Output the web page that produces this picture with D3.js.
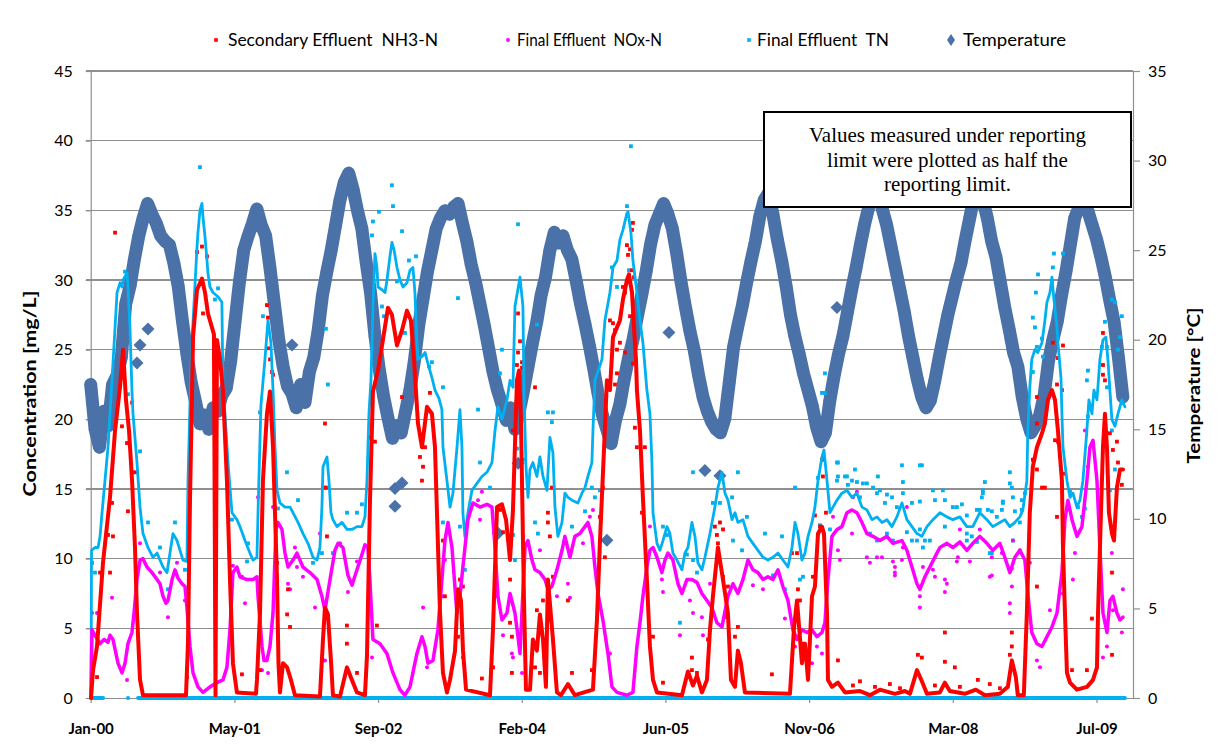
<!DOCTYPE html>
<html>
<head>
<meta charset="utf-8">
<script src="https://cdn.jsdelivr.net/npm/d3@7"></script>
<style>
  body { margin: 0; background: #fff; }
  svg { display: block; }
  text { font-family: Lato, "Liberation Sans", sans-serif; }
</style>
</head>
<body>
<svg id="chart" width="1221" height="749"></svg>
<script>
// ---------- axis definitions ----------
const xTickLabels = ["Jan-00", "May-01", "Sep-02", "Feb-04", "Jun-05", "Nov-06", "Mar-08", "Jul-09"];
const xTickStepDays = 500;
const concTicks = [0, 5, 10, 15, 20, 25, 30, 35, 40, 45];
const tempTicks = [0, 5, 10, 15, 20, 25, 30, 35];

// ---------- temperature, semi-monthly readings from Jan 2000 ----------
const tempStartYear = 2000;
const tempStepYears = 1 / 24;
const temperature = [
  17.5, 15.0, 14.0, 16.0, 15.2, 17.5, 18.0, 19.0, 22.0, 23.0,
  24.5, 25.8, 26.8, 27.6, 27.0, 26.5, 25.8, 25.5, 25.3, 24.3,
  23.0, 21.0, 19.2, 17.6, 16.5, 15.3, 15.8, 15.0, 16.2, 16.0,
  16.9, 17.3, 18.8, 21.0, 23.2, 25.0, 25.8, 26.5, 27.3, 26.4,
  25.8, 24.0, 22.0, 20.0, 18.5, 17.4, 17.0, 16.2, 17.5, 16.5,
  18.2, 19.0, 20.5, 22.5, 23.8, 25.0, 26.4, 27.8, 28.8, 29.3,
  28.4, 27.2, 26.2, 24.3, 22.6, 20.2, 18.3, 16.8, 15.6, 14.5,
  15.2, 14.8, 16.0, 17.2, 18.8, 20.8, 22.3, 23.8, 25.0, 26.2,
  26.8, 27.2, 27.0, 27.4, 27.6, 26.5, 25.5, 24.2, 23.2, 22.0,
  20.8, 19.5, 18.2, 17.2, 16.4, 15.5, 16.2, 15.0, 16.0, 17.2,
  18.5, 19.8, 21.0, 22.5, 23.5, 25.0, 26.0, 25.4, 25.8, 25.0,
  24.5, 23.3, 22.0, 20.9, 19.7, 18.4, 17.0, 15.8, 15.0, 14.2,
  15.5, 16.4, 17.8, 19.0, 20.0, 21.3, 22.5, 23.8, 25.3, 26.4,
  27.0, 27.6, 27.0, 26.2, 24.8, 23.2, 21.8, 20.5, 19.4, 18.0,
  16.8, 16.0, 15.4, 15.0, 14.8, 15.6, 17.6, 19.6, 20.8, 21.9,
  23.2, 24.4, 25.5, 26.9, 27.8, 28.2, 27.0, 25.6, 24.4, 23.0,
  21.4, 20.2, 19.2, 18.1, 17.2, 16.3, 15.1, 14.3, 14.8, 16.6,
  18.0, 19.2, 20.2, 21.5, 22.8, 24.0, 25.3, 26.5, 27.5, 28.5,
  28.3, 27.3, 26.4, 25.2, 24.0, 22.8, 21.6, 20.2, 19.0, 17.8,
  16.8, 16.2, 16.6, 17.7, 19.0, 20.2, 21.4, 22.4, 23.4, 24.3,
  25.6, 26.8, 28.0, 28.6, 27.8, 26.8, 25.5, 24.6, 23.2, 21.8,
  20.6, 19.3, 18.5, 16.8, 15.6, 14.8, 15.2, 15.8, 16.9, 18.8,
  20.0, 21.0, 22.5, 23.8, 25.3, 26.8, 27.4, 27.5, 27.2, 26.4,
  25.6, 24.6, 23.5, 22.2, 21.0, 19.0, 16.8
];
// single readings away from the seasonal band [decimal year, degC]
const temperatureSingles = [
  [2000.441, 18.7], [2000.470, 19.7], [2000.546, 20.6], [2001.918, 19.7],
  [2002.899, 11.7], [2002.899, 10.7], [2002.966, 12.0], [2003.881, 9.2],
  [2004.072, 13.1], [2004.918, 8.8], [2005.509, 20.4], [2005.852, 12.7],
  [2005.995, 12.4], [2007.110, 21.8]
];

// ---------- Secondary Effluent NH3-N [decimal year, mg/L] ----------
const nh3Trend = [
  [2000.003,0],[2000.022,2.0],[2000.060,3.7],[2000.117,9.7],[2000.184,14.4],[2000.232,19.2],[2000.279,22.3],[2000.308,25.0],
  [2000.336,21.4],[2000.365,19.2],[2000.394,15.6],[2000.422,10.8],[2000.441,6.1],[2000.470,1.3],[2000.498,0.2],[2000.908,0.2],
  [2000.927,4.0],[2000.946,14.2],[2000.975,25.9],[2001.013,29.3],[2001.060,30.1],[2001.089,29.1],[2001.117,27.6],[2001.155,26.6],
  [2001.174,26.1],[2001.189,0.2],[2001.203,25.7],[2001.232,24.3],[2001.260,22.1],[2001.298,15.6],[2001.327,8.5],[2001.355,2.5],
  [2001.393,0.4],[2001.575,0.3],[2001.584,1.3],[2001.613,6.1],[2001.641,15.6],[2001.679,20.4],[2001.708,22.0],[2001.737,18.0],
  [2001.775,8.5],[2001.789,2.5],[2001.803,0.4],[2001.832,2.5],[2001.871,2.2],[2001.908,1.3],[2001.946,0.2],[2002.184,0.1],
  [2002.213,4.2],[2002.232,6.5],[2002.260,6.0],[2002.289,2.7],[2002.308,0.2],[2002.375,0.1],[2002.441,2.2],[2002.489,1.3],
  [2002.537,0.4],[2002.613,0.2],[2002.632,3.0],[2002.661,14.2],[2002.689,22.0],[2002.737,23.5],[2002.784,25.7],[2002.832,28.0],
  [2002.870,27.5],[2002.918,25.3],[2002.966,26.4],[2003.013,27.8],[2003.051,27.1],[2003.080,24.3],[2003.118,19.7],[2003.156,18.0],
  [2003.204,20.9],[2003.251,20.4],[2003.280,18.0],[2003.299,13.3],[2003.328,6.1],[2003.356,1.8],[2003.394,0.4],[2003.423,1.3],
  [2003.471,3.4],[2003.499,7.8],[2003.528,7.0],[2003.547,3.4],[2003.576,0.6],[2003.804,0.2],[2003.833,5.0],[2003.871,13.7],
  [2003.918,13.9],[2003.957,12.8],[2003.995,9.9],[2004.023,13.5],[2004.061,22.8],[2004.080,23.5],[2004.099,20.0],[2004.128,7.0],
  [2004.147,0.6],[2004.185,0.6],[2004.213,4.2],[2004.251,3.4],[2004.280,6.0],[2004.309,4.2],[2004.337,0.8],[2004.356,8.5],
  [2004.404,4.2],[2004.442,0.4],[2004.480,0.2],[2004.547,1.0],[2004.613,0.2],[2004.785,0.6],[2004.823,5.6],[2004.852,11.3],
  [2004.890,17.8],[2004.918,22.8],[2004.947,22.1],[2004.976,25.9],[2005.014,26.6],[2005.042,27.1],[2005.071,28.6],[2005.109,30.0],
  [2005.128,30.4],[2005.157,29.1],[2005.176,26.6],[2005.195,24.3],[2005.204,22.1],[2005.233,19.2],[2005.261,14.4],[2005.299,8.5],
  [2005.328,3.7],[2005.357,1.3],[2005.395,0.4],[2005.633,0.2],[2005.690,1.9],[2005.738,0.9],[2005.776,1.6],[2005.823,0.4],
  [2005.871,1.3],[2005.900,4.9],[2005.928,7.3],[2005.976,10.8],[2006.024,8.5],[2006.071,6.1],[2006.100,1.3],[2006.138,0.8],
  [2006.166,3.4],[2006.195,2.5],[2006.233,0.4],[2006.662,0.3],[2006.700,5.0],[2006.729,7.0],[2006.776,2.5],[2006.805,3.9],
  [2006.834,1.3],[2006.872,7.3],[2006.900,8.0],[2006.929,11.8],[2006.967,12.3],[2006.986,11.8],[2007.015,6.1],[2007.024,1.3],
  [2007.062,0.8],[2007.119,1.1],[2007.186,0.4],[2007.329,0.5],[2007.424,0.2],[2007.519,0.6],[2007.662,0.3],[2007.757,0.5],
  [2007.805,0.3],[2007.872,2.0],[2007.919,1.2],[2007.967,0.3],[2008.090,0.4],[2008.138,1.1],[2008.185,0.5],[2008.328,0.3],
  [2008.433,0.6],[2008.519,0.2],[2008.662,0.3],[2008.738,0.8],[2008.776,2.7],[2008.814,1.5],[2008.833,0.2],[2008.890,0.2],
  [2008.919,6.1],[2008.947,13.3],[2008.976,16.6],[2009.015,18.0],[2009.063,19.0],[2009.091,19.7],[2009.120,21.4],[2009.158,22.1],
  [2009.187,21.4],[2009.215,19.2],[2009.253,15.6],[2009.263,10.8],[2009.282,6.1],[2009.301,1.8],[2009.330,1.1],[2009.396,0.6],
  [2009.492,0.8],[2009.549,1.3],[2009.587,2.2],[2009.597,6.1],[2009.625,13.3],[2009.644,18.0],[2009.663,20.4],[2009.682,18.0],
  [2009.701,13.3],[2009.730,11.8],[2009.749,11.3],[2009.777,15.1],[2009.806,16.4],[2009.835,16.4]
];
const nh3Samples = [
  [2000.232,33.4],[2001.013,32.0],[2001.060,32.4],[2001.108,31.7],[2001.070,27.6],[2001.679,28.2],[2001.689,27.3],[2001.698,25.1],
  [2001.708,24.3],[2001.727,23.4],[2001.737,23.2],[2000.022,2.9],[2000.060,1.5],[2000.089,9.0],[2000.184,9.0],[2000.165,11.7],
  [2000.212,11.6],[2000.203,14.0],[2000.298,19.5],[2000.346,18.3],[2000.355,13.4],[2000.422,16.2],[2000.394,21.2],[2000.917,1.5],
  [2001.441,1.7],[2001.613,2.0],[2001.775,9.7],[2001.899,5.1],[2001.880,7.8],[2001.871,6.0],[2001.737,19.7],[2002.232,19.7],
  [2002.241,15.1],[2002.251,11.6],[2002.441,5.2],[2002.441,3.9],[2002.537,1.8],[2002.661,18.7],[2002.708,18.4],[2002.727,5.2],
  [2002.966,21.6],[2003.232,21.9],[2003.137,17.3],[2003.156,15.6],[2003.166,16.6],[2003.185,18.0],[2003.356,11.3],[2003.375,7.3],
  [2003.499,4.4],[2003.518,8.5],[2003.546,8.0],[2003.727,1.4],[2003.833,2.2],[2003.899,13.5],[2003.928,11.9],[2003.995,8.5],
  [2004.013,4.4],[2004.013,1.8],[2003.995,5.4],[2004.071,27.6],[2004.090,25.6],[2004.071,24.8],[2004.109,24.1],[2004.061,23.9],
  [2004.109,23.7],[2004.061,22.3],[2004.233,22.3],[2005.166,34.1],[2005.157,33.6],[2005.109,32.5],[2005.138,32.2],[2005.119,31.8],
  [2005.157,30.7],[2005.071,29.5],[2005.090,29.1],[2005.138,27.4],[2005.176,30.2],[2004.947,27.1],[2004.976,26.9],[2004.995,26.4],
  [2005.042,25.5],[2005.014,25.0],[2005.090,24.8],[2005.014,23.3],[2004.995,22.5],[2005.166,24.0],[2004.023,19.2],[2004.280,1.8],
  [2004.356,13.3],[2004.356,12.6],[2004.375,11.6],[2004.394,15.1],[2004.404,8.7],[2004.375,5.6],[2004.309,7.0],[2004.251,6.3],
  [2004.233,2.2],[2004.547,7.0],[2004.585,1.8],[2004.775,2.0],[2004.899,10.1],[2004.880,15.1],[2004.852,13.0],[2005.185,19.4],
  [2005.204,18.0],[2005.280,18.0],[2005.252,13.3],[2005.357,4.4],[2005.452,1.1],[2005.728,2.9],[2005.728,2.0],[2005.776,1.8],
  [2005.881,4.2],[2005.966,11.7],[2005.976,11.1],[2005.995,12.6],[2005.947,12.3],[2006.024,8.7],[2006.071,8.0],[2006.024,12.1],
  [2006.138,4.4],[2006.166,5.1],[2006.490,1.7],[2006.681,10.4],[2006.729,10.4],[2006.757,7.0],[2006.738,7.8],[2006.786,3.9],
  [2006.881,8.7],[2006.900,13.1],[2006.948,12.3],[2006.967,17.1],[2006.976,15.9],[2007.005,13.3],[2007.119,2.7],[2007.262,0.9],
  [2007.881,3.1],[2007.919,2.9],[2008.138,4.7],[2008.138,2.6],[2008.233,2.2],[2008.452,1.3],[2008.776,4.7],[2008.776,3.7],
  [2008.757,3.1],[2009.015,8.0],[2009.015,16.4],[2009.063,15.1],[2009.091,15.1],[2009.206,13.0],[2009.215,18.4],[2009.187,18.5],
  [2009.253,22.1],[2009.015,21.6],[2009.015,19.7],[2009.282,16.1],[2009.349,2.0],[2009.491,2.0],[2009.539,5.7],[2009.730,9.0],
  [2009.730,3.1],[2009.739,17.8],[2009.777,18.4],[2009.787,16.9],[2009.824,15.3],[2009.710,19.0],[2009.663,22.8],[2008.976,17.1],
  [2009.644,26.2],[2009.644,23.9],[2009.644,23.2],[2009.167,25.5],[2009.215,24.4],[2009.263,25.3],[2009.206,22.5],
  [2007.329,1.2],[2007.472,0.8],[2007.614,1.0],[2007.710,0.7],[2008.043,0.9],[2008.281,0.8],[2008.566,1.0],[2008.662,0.7]
];

// ---------- Final Effluent NOx-N [decimal year, mg/L] ----------
const noxTrend = [
  [2000.003,0],[2000.012,4.9],[2000.041,4.5],[2000.089,3.9],[2000.127,4.2],[2000.165,4.0],[2000.184,4.5],[2000.212,4.2],
  [2000.260,2.5],[2000.298,1.8],[2000.327,2.5],[2000.355,3.9],[2000.393,4.7],[2000.413,6.1],[2000.441,8.5],[2000.470,9.9],
  [2000.498,10.0],[2000.536,9.4],[2000.584,9.0],[2000.632,8.5],[2000.660,8.2],[2000.689,7.3],[2000.717,6.8],[2000.736,7.0],
  [2000.775,8.5],[2000.803,9.2],[2000.832,8.6],[2000.870,8.2],[2000.898,8.0],[2000.917,6.5],[2000.946,3.7],[2000.975,1.8],
  [2001.022,0.8],[2001.070,0.4],[2001.137,0.8],[2001.203,1.1],[2001.260,1.3],[2001.298,2.2],[2001.327,4.9],[2001.355,9.0],
  [2001.393,9.4],[2001.422,8.7],[2001.489,8.5],[2001.546,8.5],[2001.584,8.7],[2001.594,7.3],[2001.632,3.7],[2001.651,2.7],
  [2001.679,2.7],[2001.708,3.7],[2001.737,6.1],[2001.765,12.1],[2001.784,12.6],[2001.822,12.1],[2001.851,10.4],[2001.880,9.4],
  [2001.927,9.9],[2001.965,10.4],[2002.022,9.4],[2002.089,9.0],[2002.156,8.5],[2002.203,7.3],[2002.232,6.3],[2002.280,8.5],
  [2002.327,10.6],[2002.356,11.1],[2002.403,10.8],[2002.451,8.8],[2002.489,8.1],[2002.537,9.2],[2002.584,10.3],[2002.613,11.0],
  [2002.641,10.8],[2002.660,8.5],[2002.689,4.2],[2002.756,3.9],[2002.822,3.2],[2002.880,1.8],[2002.946,0.6],[2002.994,0.2],
  [2003.042,0.8],[2003.108,3.2],[2003.156,4.4],[2003.185,3.7],[2003.213,2.5],[2003.261,2.7],[2003.308,4.9],[2003.346,8.5],
  [2003.375,11.3],[2003.404,12.6],[2003.442,10.8],[2003.489,6.1],[2003.518,7.3],[2003.546,9.4],[2003.594,12.8],[2003.642,14.0],
  [2003.709,13.7],[2003.775,13.9],[2003.823,13.7],[2003.852,10.8],[2003.880,7.3],[2003.918,5.6],[2003.966,6.1],[2003.995,7.5],
  [2004.042,6.1],[2004.071,4.4],[2004.090,3.2],[2004.138,10.8],[2004.166,11.3],[2004.204,9.9],[2004.233,9.2],[2004.280,9.0],
  [2004.328,8.5],[2004.356,7.8],[2004.394,8.0],[2004.442,9.2],[2004.490,10.6],[2004.518,11.6],[2004.566,10.1],[2004.613,11.6],
  [2004.661,11.8],[2004.709,12.3],[2004.737,12.6],[2004.775,11.6],[2004.804,9.4],[2004.833,7.5],[2004.880,5.6],[2004.928,3.2],
  [2004.966,0.8],[2005.014,0.4],[2005.109,0.2],[2005.166,0.4],[2005.204,3.7],[2005.233,5.4],[2005.261,7.3],[2005.299,9.4],
  [2005.328,10.6],[2005.357,10.8],[2005.395,10.1],[2005.442,9.0],[2005.471,9.9],[2005.499,10.4],[2005.547,9.9],[2005.595,8.2],
  [2005.633,7.5],[2005.680,8.5],[2005.728,8.5],[2005.776,8.3],[2005.823,7.5],[2005.871,7.0],[2005.918,6.5],[2005.966,5.4],
  [2006.014,5.1],[2006.071,7.3],[2006.119,8.2],[2006.166,7.5],[2006.214,8.5],[2006.262,9.9],[2006.309,9.2],[2006.357,9.0],
  [2006.405,8.5],[2006.452,8.7],[2006.500,8.5],[2006.548,9.2],[2006.595,8.0],[2006.643,7.0],[2006.690,4.9],[2006.729,4.2],
  [2006.776,4.9],[2006.824,4.7],[2006.871,4.9],[2006.919,4.4],[2006.967,4.7],[2006.995,5.4],[2007.024,8.5],[2007.062,11.6],
  [2007.110,12.1],[2007.157,12.3],[2007.205,13.3],[2007.253,13.5],[2007.300,13.3],[2007.348,12.6],[2007.395,11.8],[2007.453,11.6],
  [2007.519,11.3],[2007.586,11.6],[2007.643,11.1],[2007.729,11.3],[2007.776,10.6],[2007.824,9.4],[2007.872,8.2],[2007.900,7.8],
  [2007.948,8.7],[2007.995,9.4],[2008.062,10.4],[2008.091,10.8],[2008.157,11.1],[2008.214,10.8],[2008.281,11.2],[2008.347,10.6],
  [2008.404,11.1],[2008.471,11.6],[2008.538,11.1],[2008.595,10.6],[2008.662,11.1],[2008.709,10.1],[2008.757,9.0],[2008.805,10.1],
  [2008.852,10.6],[2008.900,9.9],[2008.928,7.5],[2008.966,4.7],[2009.015,3.9],[2009.063,3.7],[2009.110,4.4],[2009.158,5.1],
  [2009.206,6.1],[2009.253,9.0],[2009.282,12.8],[2009.310,14.2],[2009.349,12.8],[2009.396,11.6],[2009.444,12.3],[2009.491,15.6],
  [2009.520,18.0],[2009.549,18.5],[2009.587,15.6],[2009.615,10.8],[2009.644,6.1],[2009.682,4.7],[2009.711,7.0],[2009.739,7.3],
  [2009.777,6.1],[2009.806,5.6],[2009.834,5.8]
];
const noxSamples = [
  [2000.013,6.1],[2000.060,6.1],[2000.203,7.2],[2000.346,1.3],[2000.470,11.1],[2000.660,9.0],[2000.736,5.8],[2000.822,9.7],
  [2000.898,7.0],[2001.355,9.5],[2001.470,6.8],[2001.441,8.7],[2001.594,14.4],[2001.689,1.8],[2001.632,2.0],[2001.880,8.2],
  [2001.899,7.8],[2001.965,9.4],[2001.737,13.7],[2001.946,10.8],[2002.022,8.7],[2002.184,11.8],[2002.137,6.5],[2002.232,2.7],
  [2002.375,11.1],[2002.451,7.6],[2002.537,9.8],[2002.680,2.9],[2003.166,6.5],[2003.204,2.2],[2003.356,7.3],[2003.375,9.9],
  [2003.546,2.9],[2003.709,12.8],[2003.727,14.8],[2003.690,14.2],[2003.871,7.3],[2003.928,4.5],[2004.013,3.2],[2004.023,2.9],
  [2004.109,1.8],[2004.280,10.6],[2004.442,7.3],[2004.547,8.2],[2004.566,7.2],[2004.690,11.1],[2004.756,13.0],[2004.785,13.5],
  [2004.833,7.4],[2004.947,3.2],[2005.328,12.3],[2005.442,8.5],[2005.452,7.6],[2005.709,7.0],[2005.738,6.1],[2005.823,5.8],
  [2005.833,4.5],[2005.900,8.2],[2005.614,4.5],[2006.043,5.8],[2006.309,8.1],[2006.405,7.8],[2006.614,5.7],[2006.710,3.7],
  [2006.805,3.4],[2006.872,2.5],[2006.919,3.7],[2006.967,3.2],[2007.119,10.6],[2007.253,11.8],[2007.395,10.1],[2007.424,9.7],
  [2007.643,9.8],[2007.662,8.8],[2007.729,9.9],[2007.900,7.3],[2007.900,6.5],[2008.024,9.2],[2008.138,8.5],[2008.138,7.6],
  [2008.262,10.1],[2008.376,9.8],[2008.566,8.7],[2008.585,10.1],[2008.757,6.8],[2008.757,6.1],[2008.786,11.3],[2008.948,9.7],
  [2009.015,2.7],[2009.044,2.2],[2009.139,6.3],[2009.263,7.5],[2009.358,8.5],[2009.377,10.4],[2009.472,19.2],[2009.501,16.6],
  [2009.644,2.9],[2009.682,3.7],[2009.729,10.4],[2009.739,6.3],[2009.824,4.7],[2009.834,7.8],
  [2007.072,13.0],[2007.138,9.9],[2007.491,10.1],[2007.538,10.1],[2007.662,9.4],[2007.662,9.0],[2007.738,10.8],[2007.929,9.4],
  [2008.043,8.7],[2008.157,8.2],[2008.252,9.8],[2008.281,12.1],[2008.471,12.1],[2008.585,8.8],[2008.681,10.4],[2008.776,9.3],
  [2008.776,8.0],[2008.852,10.6],[2007.262,14.4],[2007.300,14.8],[2007.776,13.7]
];

// ---------- Final Effluent TN [decimal year, mg/L] ----------
const tnTrend = [
  [2000.003,0],[2000.008,10.6],[2000.041,10.8],[2000.070,10.8],[2000.089,11.6],[2000.108,13.3],[2000.136,15.6],[2000.165,18.0],
  [2000.203,22.8],[2000.251,29.1],[2000.279,29.8],[2000.298,29.5],[2000.308,30.0],[2000.346,30.5],[2000.355,29.5],[2000.374,26.6],
  [2000.393,22.1],[2000.403,20.4],[2000.441,16.9],[2000.470,13.7],[2000.498,11.8],[2000.546,10.8],[2000.594,10.1],[2000.632,10.4],
  [2000.660,9.9],[2000.689,9.4],[2000.727,9.0],[2000.755,10.4],[2000.784,11.8],[2000.822,11.3],[2000.851,10.6],[2000.879,9.9],
  [2000.917,9.8],[2000.927,15.6],[2000.956,24.0],[2000.975,27.0],[2001.013,32.4],[2001.022,33.4],[2001.041,35.0],[2001.060,35.5],
  [2001.070,34.5],[2001.089,33.1],[2001.108,31.4],[2001.117,30.5],[2001.136,29.5],[2001.165,29.1],[2001.213,28.8],[2001.250,28.4],
  [2001.260,22.1],[2001.279,20.4],[2001.308,16.9],[2001.346,13.3],[2001.393,12.8],[2001.422,12.3],[2001.470,11.3],[2001.517,10.4],
  [2001.546,9.9],[2001.584,10.1],[2001.594,13.3],[2001.622,21.0],[2001.660,24.3],[2001.689,27.1],[2001.717,25.5],[2001.737,22.1],
  [2001.756,18.0],[2001.775,14.9],[2001.803,14.0],[2001.851,13.7],[2001.899,13.7],[2001.927,13.3],[2001.975,12.6],[2002.023,11.8],
  [2002.070,11.1],[2002.118,10.1],[2002.156,9.9],[2002.184,10.8],[2002.203,13.7],[2002.213,16.6],[2002.251,17.3],[2002.270,15.6],
  [2002.289,13.3],[2002.308,12.8],[2002.346,12.3],[2002.394,12.6],[2002.442,12.1],[2002.489,12.1],[2002.537,12.3],[2002.584,12.3],
  [2002.613,13.0],[2002.632,15.6],[2002.651,20.4],[2002.670,22.8],[2002.689,28.0],[2002.708,31.9],[2002.727,30.9],[2002.737,29.5],
  [2002.775,29.3],[2002.804,29.1],[2002.823,30.0],[2002.851,31.7],[2002.870,32.7],[2002.889,32.2],[2002.918,30.9],[2002.947,30.0],
  [2002.975,29.5],[2003.013,29.8],[2003.042,30.7],[2003.070,30.9],[2003.089,29.1],[2003.108,25.5],[2003.118,24.3],[2003.156,24.5],
  [2003.185,24.8],[2003.213,24.0],[2003.251,23.0],[2003.280,22.1],[2003.318,21.5],[2003.346,20.7],[2003.356,18.0],[2003.394,15.6],
  [2003.423,13.7],[2003.451,14.7],[2003.490,18.0],[2003.518,20.7],[2003.537,18.0],[2003.546,13.3],[2003.565,11.6],[2003.594,13.3],
  [2003.632,14.9],[2003.680,15.4],[2003.727,15.9],[2003.775,16.2],[2003.823,16.9],[2003.852,19.2],[2003.880,20.9],[2003.918,20.0],
  [2003.966,21.4],[2003.995,22.8],[2004.023,22.3],[2004.042,28.1],[2004.090,30.2],[2004.118,28.1],[2004.128,22.0],[2004.147,16.6],
  [2004.166,14.4],[2004.185,16.4],[2004.213,16.9],[2004.251,15.9],[2004.280,17.3],[2004.309,15.9],[2004.347,14.9],[2004.375,18.7],
  [2004.404,17.6],[2004.423,13.7],[2004.451,11.6],[2004.490,12.6],[2004.518,14.7],[2004.547,14.4],[2004.585,14.2],[2004.642,14.0],
  [2004.680,14.7],[2004.709,15.1],[2004.737,15.9],[2004.775,16.9],[2004.785,19.2],[2004.804,22.8],[2004.871,24.3],[2004.899,27.1],
  [2004.947,29.1],[2004.976,30.9],[2005.014,31.4],[2005.042,32.9],[2005.071,33.6],[2005.109,34.8],[2005.119,34.9],[2005.147,33.4],
  [2005.166,31.4],[2005.204,29.1],[2005.233,27.1],[2005.261,25.5],[2005.299,22.1],[2005.328,20.4],[2005.347,16.9],[2005.357,13.3],
  [2005.395,11.1],[2005.423,10.6],[2005.452,11.3],[2005.490,12.3],[2005.518,11.8],[2005.547,10.4],[2005.585,9.9],[2005.633,9.2],
  [2005.661,10.4],[2005.690,10.8],[2005.728,12.6],[2005.757,11.6],[2005.785,9.7],[2005.823,9.2],[2005.852,10.1],[2005.900,11.8],
  [2005.947,13.7],[2005.976,15.1],[2006.014,16.2],[2006.043,14.7],[2006.071,14.2],[2006.110,12.8],[2006.138,13.3],[2006.166,12.6],
  [2006.214,12.8],[2006.262,11.6],[2006.309,11.1],[2006.357,10.6],[2006.405,10.1],[2006.452,9.9],[2006.500,10.1],[2006.548,10.4],
  [2006.595,9.9],[2006.643,9.4],[2006.681,10.8],[2006.710,12.6],[2006.738,11.8],[2006.776,9.9],[2006.805,10.4],[2006.834,11.6],
  [2006.872,12.6],[2006.900,13.7],[2006.929,15.6],[2006.967,17.3],[2006.986,17.8],[2007.015,15.6],[2007.043,13.3],[2007.072,13.7],
  [2007.110,14.2],[2007.157,14.7],[2007.205,14.9],[2007.253,14.4],[2007.300,14.7],[2007.348,13.7],[2007.395,13.5],[2007.443,12.8],
  [2007.491,13.0],[2007.538,12.6],[2007.586,12.8],[2007.633,12.3],[2007.681,13.0],[2007.729,14.0],[2007.776,12.8],[2007.824,12.3],
  [2007.872,11.8],[2007.919,11.6],[2007.967,12.3],[2008.024,12.8],[2008.091,13.3],[2008.157,13.0],[2008.214,12.8],[2008.281,13.0],
  [2008.347,12.3],[2008.404,12.3],[2008.471,13.3],[2008.538,12.8],[2008.595,12.3],[2008.662,12.6],[2008.709,12.8],[2008.757,12.3],
  [2008.805,12.6],[2008.852,13.0],[2008.881,13.5],[2008.919,15.6],[2008.928,19.2],[2008.947,22.3],[2008.966,24.3],[2008.995,25.0],
  [2009.023,24.8],[2009.063,25.5],[2009.091,27.1],[2009.110,28.4],[2009.139,29.1],[2009.158,30.2],[2009.177,28.6],[2009.206,26.6],
  [2009.215,25.5],[2009.244,23.0],[2009.253,20.4],[2009.263,18.0],[2009.301,15.6],[2009.330,14.4],[2009.358,14.7],[2009.396,13.7],
  [2009.425,14.2],[2009.453,15.6],[2009.491,19.2],[2009.510,21.4],[2009.539,20.4],[2009.558,22.1],[2009.587,21.4],[2009.615,24.3],
  [2009.644,25.7],[2009.672,25.9],[2009.691,24.3],[2009.710,22.1],[2009.729,20.0],[2009.758,19.5],[2009.787,20.4],[2009.824,21.4],
  [2009.853,20.9]
];
const tnSamples = [
  [2001.041,38.1],[2000.327,30.6],[2001.213,29.4],[2001.184,28.6],[2001.641,27.4],[2000.013,9.7],[2000.041,9.0],[2000.470,17.7],
  [2000.355,21.8],[2000.546,12.6],[2000.660,10.8],[2000.803,12.6],[2000.736,7.8],[2000.898,9.2],[2001.346,12.8],[2001.499,11.1],
  [2001.489,9.8],[2001.870,16.2],[2001.975,14.2],[2001.784,13.6],[2001.613,20.5],[2002.870,36.8],[2002.880,35.3],[2002.746,34.9],
  [2002.689,34.2],[2002.680,33.2],[2002.966,33.5],[2003.032,31.4],[2003.099,31.7],[2002.918,29.9],[2003.499,28.7],[2004.071,34.0],
  [2002.241,26.5],[2002.260,22.5],[2002.775,28.1],[2002.794,27.4],[2002.994,26.2],[2003.223,23.8],[2003.251,24.1],[2003.899,23.3],
  [2003.918,25.0],[2005.147,39.6],[2005.109,35.3],[2004.252,26.8],[2005.128,30.7],[2004.966,30.9],[2005.014,29.5],[2002.232,15.1],
  [2002.537,13.3],[2002.584,13.9],[2002.442,13.3],[2002.308,10.4],[2002.203,10.4],[2002.118,9.7],[2003.565,9.2],[2003.518,12.3],
  [2003.356,12.6],[2003.709,16.9],[2003.690,20.7],[2003.804,15.1],[2004.023,11.7],[2004.042,9.9],[2003.356,22.3],[2004.356,20.5],
  [2004.404,20.5],[2004.394,19.8],[2004.061,17.9],[2004.118,17.1],[2004.233,12.6],[2004.261,11.8],[2004.585,12.3],[2004.709,13.4],
  [2004.775,15.1],[2004.804,14.4],[2004.852,14.9],[2005.452,12.3],[2005.490,11.7],[2005.614,5.4],[2005.680,10.3],[2005.738,9.9],
  [2005.776,9.0],[2005.928,14.0],[2005.995,14.0],[2006.014,15.8],[2005.738,16.2],[2006.166,16.2],[2006.110,14.4],[2006.252,13.0],
  [2006.119,11.3],[2006.205,10.6],[2006.424,11.8],[2006.586,11.6],[2006.500,8.8],[2006.614,7.8],[2006.710,15.1],[2006.757,8.5],
  [2006.786,8.7],[2006.929,15.8],[2006.948,12.4],[2006.967,21.9],[2006.995,21.9],[2006.995,23.3],[2007.119,16.9],[2007.205,15.9],
  [2007.281,16.4],[2007.300,15.5],[2007.110,15.6],[2007.214,15.3],[2007.329,14.4],[2007.395,15.4],[2007.491,14.7],[2007.567,14.0],
  [2007.681,13.7],[2007.729,16.7],[2007.738,15.5],[2007.919,16.7],[2007.900,12.1],[2007.948,11.3],[2008.024,14.9],[2007.491,11.3],
  [2007.586,11.8],[2007.776,11.9],[2007.824,11.3],[2008.119,14.9],[2008.138,14.2],[2008.214,13.7],[2008.300,13.9],[2008.347,11.8],
  [2008.395,11.6],[2008.471,13.5],[2008.490,14.4],[2008.500,14.9],[2008.585,13.4],[2008.681,13.5],[2008.690,14.0],[2008.757,16.2],
  [2008.757,15.4],[2008.776,15.1],[2008.805,13.4],[2008.585,10.4],[2008.138,12.3],[2008.871,14.2],[2008.871,13.5],[2009.330,14.8],
  [2009.406,13.7],[2009.444,13.0],[2009.472,13.6],[2009.501,20.2],[2009.710,14.9],[2009.758,16.4],[2009.729,19.2],[2009.682,22.3],
  [2009.025,30.4],[2009.177,31.9],[2009.263,31.9],[2009.167,30.9],[2009.158,29.9],[2008.976,27.3],[2009.005,29.1],[2008.996,26.6],
  [2009.063,25.8],[2009.072,24.5],[2009.015,25.2],[2008.976,23.4],[2009.729,28.6],[2009.758,28.4],[2009.824,27.4],[2009.806,25.9],
  [2009.787,25.0],[2009.663,27.0],[2009.682,25.2],[2009.501,23.5],[2009.491,22.8],[2009.634,25.2],
  [2007.110,16.9],[2007.119,15.9],[2007.186,15.9],[2007.253,15.6],[2007.357,15.4],[2007.453,15.1],[2007.500,15.9],[2007.519,14.9],
  [2007.586,14.6],[2007.634,14.4],[2007.738,14.7],[2007.824,14.0],[2007.900,16.7],[2007.900,14.1],[2008.043,14.2],[2008.252,13.7],
  [2008.347,13.1],[2008.443,13.5],[2008.500,14.7],[2008.519,15.5],[2008.548,13.5],[2008.633,13.0],[2008.690,14.1],[2008.786,14.4],
  [2008.852,12.6],[2008.900,14.7],[2007.424,11.8],[2007.643,11.3],[2007.872,11.3],[2007.929,10.8],[2007.995,11.3],[2008.347,11.3],
  [2008.443,11.2],[2008.566,10.4],[2008.786,11.3],[2007.043,12.1]
];
// periods of readings below the reporting limit, plotted on the zero line [from, to]
const tnBelowLimit = [[2000.003, 2000.118], [2000.355, 2000.356], [2000.451, 2009.853]];

// ---------- layout ----------
const svg = d3.select("#chart");
const plot = { left: 90.7, right: 1133, top: 71, bottom: 698 };
const xEndYear = 2000 + 3627 / 365.25;

const x = d3.scaleLinear().domain([2000, xEndYear]).range([plot.left, plot.right]);
const yConc = d3.scaleLinear().domain([0, 45]).range([plot.bottom, plot.top]);
const yTemp = d3.scaleLinear().domain([0, 35]).range([plot.bottom, plot.top]);

const colors = { nh3: "#FF0000", nox: "#FF00FF", tn: "#00B0F0", temp: "#4A72A8" };
const gridColor = "#8f8f8f";

// gridlines
svg.append("g")
  .selectAll("line")
  .data(concTicks.filter(d => d > 0))
  .join("line")
  .attr("x1", plot.left - 5).attr("x2", plot.right)
  .attr("y1", d => yConc(d)).attr("y2", d => yConc(d))
  .attr("stroke", gridColor).attr("stroke-width", 1.2)
  .attr("shape-rendering", "crispEdges");

// axes
function styleAxis(g) {
  g.selectAll(".domain").attr("stroke", gridColor).attr("stroke-width", 1.2);
  g.selectAll(".tick line").attr("stroke", gridColor).attr("stroke-width", 1.2);
  g.selectAll("text").attr("fill", "#000").style("font-family", "Lato, 'Liberation Sans', sans-serif");
}

const xTickValues = xTickLabels.map((_, i) => 2000 + i * xTickStepDays / 365.25);
svg.append("g")
  .attr("transform", `translate(0,${plot.bottom})`)
  .call(d3.axisBottom(x).tickValues(xTickValues).tickFormat((d, i) => xTickLabels[i])
    .tickSize(5).tickSizeOuter(0).tickPadding(20))
  .call(styleAxis)
  .call(g => g.selectAll("text").style("font-size", "15px").style("font-weight", "bold"));

svg.append("g")
  .attr("transform", `translate(${plot.left},0)`)
  .call(d3.axisLeft(yConc).tickValues(concTicks).tickSize(5).tickSizeOuter(0).tickPadding(13))
  .call(styleAxis)
  .call(g => g.selectAll("text").style("font-size", "16px"));

svg.append("g")
  .attr("transform", `translate(${plot.right},0)`)
  .call(d3.axisRight(yTemp).tickValues(tempTicks).tickSize(7).tickSizeOuter(0).tickPadding(8))
  .call(styleAxis)
  .call(g => g.selectAll("text").style("font-size", "16px"));

// axis titles
svg.append("text")
  .attr("transform", `translate(36,${(plot.top + plot.bottom) / 2 + 9}) rotate(-90)`)
  .attr("text-anchor", "middle")
  .attr("textLength", 206).attr("lengthAdjust", "spacingAndGlyphs")
  .style("font-size", "16.5px").style("font-weight", "bold")
  .text("Concentration [mg/L]");
svg.append("text")
  .attr("transform", `translate(1200,${(plot.top + plot.bottom) / 2 + 1}) rotate(-90)`)
  .attr("text-anchor", "middle")
  .attr("textLength", 156).attr("lengthAdjust", "spacingAndGlyphs")
  .style("font-size", "16.5px").style("font-weight", "bold")
  .text("Temperature [°C]");

// ---------- temperature ----------
const tempPoints = temperature.map((t, i) => [tempStartYear + i * tempStepYears, t]);
const diamond = r => `M0,${-r}L${r},0L0,${r}L${-r},0Z`;

svg.append("path")
  .datum(tempPoints)
  .attr("fill", "none")
  .attr("stroke", colors.temp)
  .attr("stroke-width", 13)
  .attr("stroke-linejoin", "round")
  .attr("stroke-linecap", "round")
  .attr("d", d3.line().x(d => x(d[0])).y(d => yTemp(d[1])));

svg.append("g")
  .selectAll("path")
  .data(tempPoints.concat(temperatureSingles))
  .join("path")
  .attr("transform", d => `translate(${x(d[0])},${yTemp(d[1])})`)
  .attr("d", diamond(6.5))
  .attr("fill", colors.temp);

// ---------- concentration samples ----------
function squares(data, color, size) {
  svg.append("g").selectAll("rect").data(data).join("rect")
    .attr("x", d => x(d[0]) - size / 2).attr("y", d => yConc(d[1]) - size / 2)
    .attr("width", size).attr("height", size).attr("fill", color);
}
squares(tnSamples, colors.tn, 3.8);
svg.append("g").selectAll("circle").data(noxSamples).join("circle")
  .attr("cx", d => x(d[0])).attr("cy", d => yConc(d[1])).attr("r", 2)
  .attr("fill", colors.nox);
squares(nh3Samples, colors.nh3, 3.8);

// below-limit readings on the zero line
svg.append("g").selectAll("line").data(tnBelowLimit).join("line")
  .attr("x1", d => x(d[0])).attr("x2", d => x(d[1]))
  .attr("y1", yConc(0)).attr("y2", yConc(0))
  .attr("stroke", colors.tn).attr("stroke-width", 4).attr("stroke-linecap", "round");

// ---------- trend lines ----------
const trendLine = d3.line().x(d => x(d[0])).y(d => yConc(d[1]));
function trend(data, color, width) {
  svg.append("path").datum(data)
    .attr("fill", "none").attr("stroke", color).attr("stroke-width", width)
    .attr("stroke-linejoin", "round").attr("stroke-linecap", "round")
    .attr("d", trendLine);
}
trend(tnTrend, colors.tn, 2.8);
trend(noxTrend, colors.nox, 3.5);
trend(nh3Trend, colors.nh3, 4);

// ---------- note ----------
const note = svg.append("g");
note.append("rect")
  .attr("x", 764).attr("y", 112).attr("width", 367).attr("height", 95)
  .attr("fill", "#fff").attr("stroke", "#000").attr("stroke-width", 2);
["Values measured under reporting", "limit were plotted as half the", "reporting limit."]
  .forEach((line, i) => {
    note.append("text")
      .attr("x", 947.5).attr("y", 142 + i * 24.5)
      .attr("text-anchor", "middle")
      .style("font-family", "'Liberation Serif', 'Times New Roman', serif")
      .style("font-size", "21px")
      .text(line);
  });

// ---------- legend ----------
const legendItems = [
  { label: "Secondary Effluent  NH3-N", color: colors.nh3, mark: "square", x: 216, tx: 228, w: 210 },
  { label: "Final Effluent  NOx-N", color: colors.nox, mark: "circle", x: 508, tx: 517, w: 145 },
  { label: "Final Effluent  TN", color: colors.tn, mark: "square", x: 749, tx: 757, w: 132 },
  { label: "Temperature", color: colors.temp, mark: "diamond", x: 951, tx: 963, w: 103 }
];
const legend = svg.append("g");
legendItems.forEach(item => {
  if (item.mark === "square") {
    legend.append("rect").attr("x", item.x - 1.8).attr("y", 40 - 1.8)
      .attr("width", 3.6).attr("height", 3.6).attr("fill", item.color);
  } else if (item.mark === "circle") {
    legend.append("circle").attr("cx", item.x).attr("cy", 40).attr("r", 1.9).attr("fill", item.color);
  } else {
    legend.append("path").attr("transform", `translate(${item.x},40)`)
      .attr("d", "M0,-6L4,0L0,6L-4,0Z").attr("fill", item.color);
  }
  legend.append("text")
    .attr("x", item.tx).attr("y", 46)
    .attr("textLength", item.w).attr("lengthAdjust", "spacingAndGlyphs")
    .style("font-size", "16.5px")
    .attr("xml:space", "preserve")
    .text(item.label);
});
</script>
</body>
</html>
